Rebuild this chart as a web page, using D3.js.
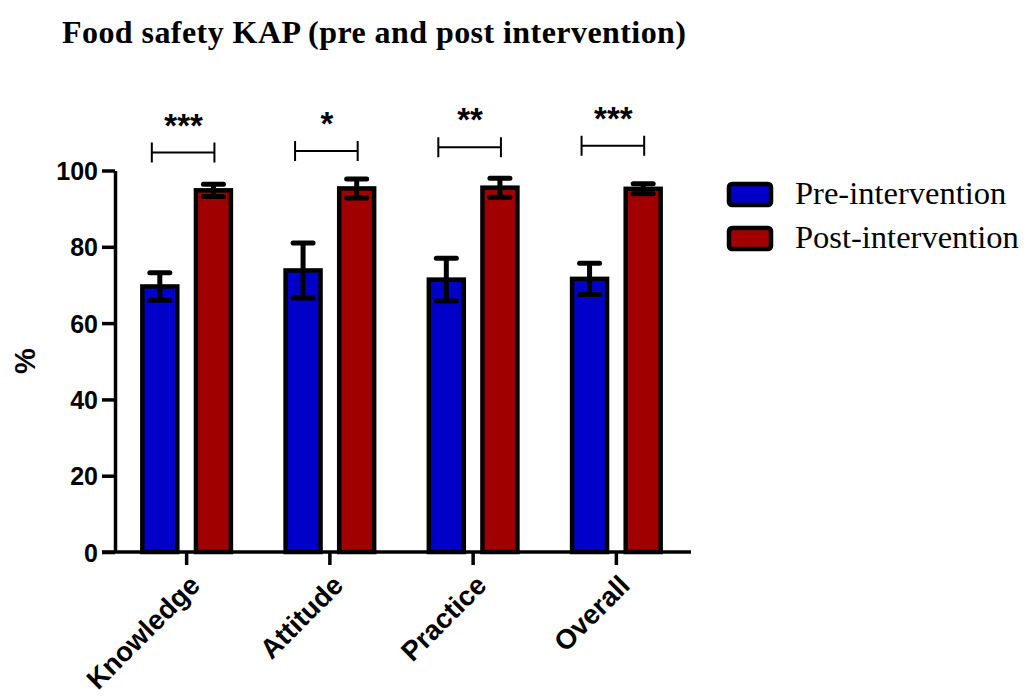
<!DOCTYPE html>
<html><head><meta charset="utf-8">
<script src="https://cdn.jsdelivr.net/npm/d3@7"></script>
<style>body{margin:0;background:#fff}svg{display:block}</style>
</head><body>
<svg id="c" width="1024" height="700"></svg>
<script>
const categories = ["Knowledge", "Attitude", "Practice", "Overall"];
const series = ["Pre-intervention", "Post-intervention"];
const preMean = [69.6, 73.8, 71.4, 71.6];
const preSD = [3.6, 7.2, 5.6, 4.1];
const postMean = [94.8, 95.3, 95.5, 95.2];
const postSD = [1.6, 2.5, 2.5, 1.3];
const significance = ["***", "*", "**", "***"];
const bracketLevel = [104.7, 105.1, 106.1, 106.5];
const yTicks = [0, 20, 40, 60, 80, 100];
const colors = ["#0000c8", "#a00000"];

const svg = d3.select("#c");
const y = d3.scaleLinear().domain([0, 100]).range([552, 170.5]);
const x0 = d3.scaleBand().domain(categories).range([115, 688]).paddingInner(0).paddingOuter(0);
const x1 = d3.scaleBand().domain(series).range([0, x0.bandwidth()]).paddingInner(0.264).paddingOuter(0.468);

// title
svg.append("text").attr("x", 62).attr("y", 43)
  .attr("font-family", "Liberation Serif, Times New Roman, serif")
  .attr("font-weight", "bold").attr("font-size", 32)
  .attr("textLength", 624).attr("lengthAdjust", "spacing")
  .text("Food safety KAP (pre and post intervention)");

// bars
const sw = 4.5;
const data = categories.map((c, i) => ({c, vals: [
  {s: series[0], m: preMean[i], sd: preSD[i]},
  {s: series[1], m: postMean[i], sd: postSD[i]}]}));

const g = svg.append("g");
data.forEach((d, i) => {
  d.vals.forEach((v, j) => {
    const bx = x0(d.c) + x1(v.s);
    const bw = x1.bandwidth();
    g.append("rect")
      .attr("x", bx + sw / 2).attr("y", y(v.m))
      .attr("width", bw - sw).attr("height", y(0) - y(v.m))
      .attr("fill", colors[j]).attr("stroke", "#000").attr("stroke-width", sw);
    const cx = bx + bw / 2;
    g.append("line").attr("x1", cx).attr("x2", cx)
      .attr("y1", y(v.m - v.sd)).attr("y2", y(v.m + v.sd))
      .attr("stroke", "#000").attr("stroke-width", 5);
    [v.m - v.sd, v.m + v.sd].forEach(e => {
      g.append("line").attr("x1", cx - 10).attr("x2", cx + 10)
        .attr("y1", y(e)).attr("y2", y(e))
        .attr("stroke", "#000").attr("stroke-width", 5).attr("stroke-linecap", "round");
    });
  });
  // bracket
  const lx = x0(d.c) + x1(series[0]) + x1.bandwidth() / 2 - 8;
  const rx = x0(d.c) + x1(series[1]) + x1.bandwidth() / 2 + 1;
  const by = y(bracketLevel[i]);
  g.append("path")
    .attr("d", `M${lx},${by - 10}V${by + 10}M${lx},${by}H${rx}M${rx},${by - 10}V${by + 10}`)
    .attr("stroke", "#000").attr("stroke-width", 2).attr("fill", "none");
  g.append("text").attr("x", x0(d.c) + x0.bandwidth() / 2 - 3).attr("y", by - 16)
    .attr("text-anchor", "middle")
    .attr("font-family", "Liberation Sans, Arial, sans-serif")
    .attr("font-size", 33).attr("font-weight", "bold")
    .text(significance[i]);
});

// y axis
const yAxis = svg.append("g").attr("transform", "translate(115,0)")
  .call(d3.axisLeft(y).tickValues(yTicks).tickSize(13).tickSizeOuter(0).tickPadding(4));
yAxis.select(".domain").attr("stroke", "#000").attr("stroke-width", 3.5);
yAxis.selectAll(".tick line").attr("stroke-width", 3.5);
yAxis.selectAll(".tick text").attr("font-family", "Liberation Sans, Arial, sans-serif")
  .attr("font-size", 25).attr("font-weight", "bold").attr("fill", "#000").attr("dy", "0.36em");

// x axis
const xAxis = svg.append("g").attr("transform", "translate(0,552)")
  .call(d3.axisBottom(x0).tickSize(13).tickSizeOuter(0).tickFormat(""));
xAxis.select(".domain").remove();
xAxis.selectAll(".tick line").attr("stroke-width", 3.5);
svg.append("line").attr("x1", 102).attr("x2", 691).attr("y1", y(0)).attr("y2", y(0))
  .attr("stroke", "#000").attr("stroke-width", 3.5);

svg.append("g").selectAll("text").data(categories).join("text")
  .attr("transform", d => `translate(${x0(d) + x0.bandwidth() / 2 + 15},587) rotate(-45)`)
  .attr("text-anchor", "end")
  .attr("font-family", "Liberation Sans, Arial, sans-serif")
  .attr("font-size", 27.5).attr("font-weight", "bold")
  .text(d => d);

// y label
svg.append("text").attr("transform", "translate(35,361) rotate(-90)")
  .attr("text-anchor", "middle")
  .attr("font-family", "Liberation Sans, Arial, sans-serif")
  .attr("font-size", 29).attr("font-weight", "bold").text("%");

// legend
const leg = svg.append("g");
series.forEach((s, i) => {
  leg.append("rect").attr("x", 729).attr("y", 184 + i * 44).attr("width", 42).attr("height", 21)
    .attr("rx", 3).attr("fill", colors[i]).attr("stroke", "#000").attr("stroke-width", 4.5);
  leg.append("text").attr("x", 795).attr("y", 204 + i * 44)
    .attr("font-family", "Liberation Serif, Times New Roman, serif")
    .attr("font-size", 32.5).text(s);
});
</script>
</body></html>
